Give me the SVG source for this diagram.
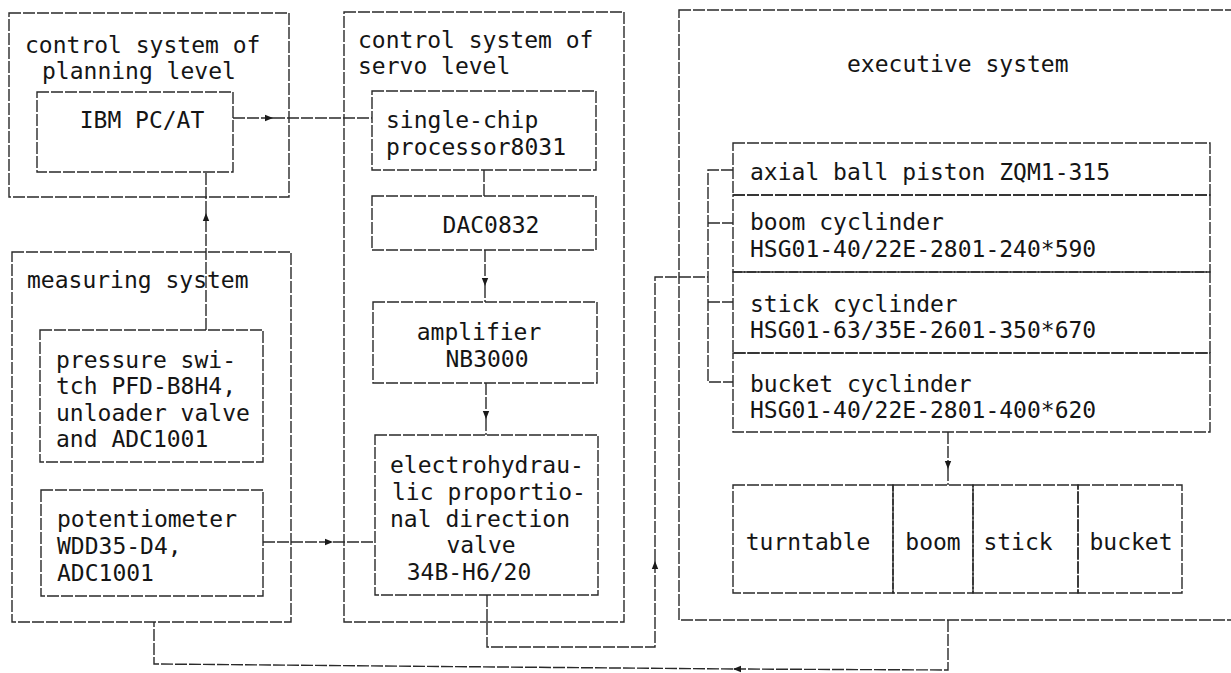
<svg xmlns="http://www.w3.org/2000/svg" width="1231" height="673" viewBox="0 0 1231 673">
<style>
.bx{fill:none;stroke:#2a2a2a;stroke-width:1.4;stroke-dasharray:12 2}
.ln{fill:none;stroke:#2a2a2a;stroke-width:1.4;stroke-dasharray:12 2}
.t{font-family:"DejaVu Sans Mono","Liberation Mono",monospace;font-size:23px;fill:#151515}
.m{text-anchor:middle}
</style>
<defs>
<marker id="ah" viewBox="0 0 10 10" refX="10" refY="5" markerWidth="9" markerHeight="8" markerUnits="userSpaceOnUse" orient="auto">
<path d="M0,1 L10,5 L0,9 z" fill="#1a1a1a"/>
</marker>
</defs>
<rect width="1231" height="673" fill="#ffffff"/>

<g id="planning-level">
<rect class="bx" x="9" y="13" width="280" height="184"/>
<text class="t" x="25" y="53">control system of</text>
<text class="t" x="42" y="79">planning level</text>
</g>
<g id="ibm-pc">
<rect class="bx" x="37" y="92" width="196" height="80"/>
<text class="t m" x="142" y="128">IBM PC/AT</text>
</g>

<g id="measuring-system">
<rect class="bx" x="12" y="252" width="279" height="370"/>
<text class="t" x="27" y="288">measuring system</text>
</g>
<g id="pressure-switch">
<rect class="bx" x="40" y="330" width="223" height="132"/>
<text class="t" x="56" y="368">pressure swi-</text>
<text class="t" x="56" y="394">tch PFD-B8H4,</text>
<text class="t" x="56" y="421">unloader valve</text>
<text class="t" x="56" y="447">and ADC1001</text>
</g>
<g id="potentiometer">
<rect class="bx" x="41" y="490" width="222" height="106"/>
<text class="t" x="57" y="527">potentiometer</text>
<text class="t" x="57" y="554">WDD35-D4,</text>
<text class="t" x="57" y="581">ADC1001</text>
</g>

<g id="servo-level">
<rect class="bx" x="344" y="12" width="280" height="610"/>
<text class="t" x="358" y="48">control system of</text>
<text class="t" x="358" y="74">servo level</text>
</g>
<g id="single-chip">
<rect class="bx" x="372" y="91" width="224" height="79"/>
<text class="t" x="386" y="128">single-chip</text>
<text class="t" x="386" y="155">processor8031</text>
</g>
<g id="dac">
<rect class="bx" x="372" y="196" width="224" height="54"/>
<text class="t m" x="491" y="233">DAC0832</text>
</g>
<g id="amplifier">
<rect class="bx" x="373" y="302" width="224" height="81"/>
<text class="t m" x="479" y="340">amplifier</text>
<text class="t m" x="487" y="367">NB3000</text>
</g>
<g id="valve">
<rect class="bx" x="375" y="435" width="223" height="160"/>
<text class="t" x="390" y="473">electrohydrau-</text>
<text class="t" x="392" y="500">lic proportio-</text>
<text class="t" x="390" y="527">nal direction</text>
<text class="t m" x="481" y="553">valve</text>
<text class="t m" x="469" y="580">34B-H6/20</text>
</g>

<g id="executive-system">
<rect class="bx" x="679" y="10" width="570" height="610"/>
<text class="t" x="847" y="72">executive system</text>
</g>
<g id="axial-pump">
<rect class="bx" x="733" y="143" width="477" height="52"/>
<text class="t" x="750" y="180">axial ball piston ZQM1-315</text>
</g>
<g id="boom-cylinder">
<rect class="bx" x="733" y="195" width="477" height="77"/>
<text class="t" x="750" y="230">boom cyclinder</text>
<text class="t" x="750" y="257">HSG01-40/22E-2801-240*590</text>
</g>
<g id="stick-cylinder">
<rect class="bx" x="733" y="272" width="477" height="81"/>
<text class="t" x="750" y="312">stick cyclinder</text>
<text class="t" x="750" y="338">HSG01-63/35E-2601-350*670</text>
</g>
<g id="bucket-cylinder">
<rect class="bx" x="733" y="353" width="477" height="79"/>
<text class="t" x="750" y="392">bucket cyclinder</text>
<text class="t" x="750" y="418">HSG01-40/22E-2801-400*620</text>
</g>
<g id="turntable">
<rect class="bx" x="733" y="485" width="160" height="108"/>
<text class="t m" x="808" y="550">turntable</text>
</g>
<g id="boom">
<rect class="bx" x="893" y="485" width="80" height="108"/>
<text class="t m" x="933" y="550">boom</text>
</g>
<g id="stick">
<rect class="bx" x="973" y="485" width="105" height="108"/>
<text class="t m" x="1018" y="550">stick</text>
</g>
<g id="bucket">
<rect class="bx" x="1078" y="485" width="104" height="108"/>
<text class="t m" x="1131" y="550">bucket</text>
</g>

<g id="connectors">
<line class="ln" x1="233" y1="118" x2="273" y2="118" marker-end="url(#ah)"/>
<line class="ln" x1="273" y1="118" x2="372" y2="118"/>
<line class="ln" x1="484" y1="170" x2="484" y2="196"/>
<line class="ln" x1="485" y1="250" x2="485" y2="286" marker-end="url(#ah)"/>
<line class="ln" x1="485" y1="286" x2="485" y2="302"/>
<line class="ln" x1="486" y1="383" x2="486" y2="419" marker-end="url(#ah)"/>
<line class="ln" x1="486" y1="419" x2="486" y2="435"/>
<line class="ln" x1="206" y1="330" x2="206" y2="213" marker-end="url(#ah)"/>
<line class="ln" x1="206" y1="213" x2="206" y2="172"/>
<line class="ln" x1="263" y1="542" x2="333" y2="542" marker-end="url(#ah)"/>
<line class="ln" x1="333" y1="542" x2="375" y2="542"/>
<polyline class="ln" points="487,595 487,647 655,647 655,561" marker-end="url(#ah)"/>
<polyline class="ln" points="655,561 655,277 708,277"/>
<polyline class="ln" points="733,170 708,170 708,382 733,382"/>
<line class="ln" x1="708" y1="223" x2="733" y2="223"/>
<line class="ln" x1="708" y1="302" x2="733" y2="302"/>
<line class="ln" x1="948" y1="432" x2="948" y2="469" marker-end="url(#ah)"/>
<line class="ln" x1="948" y1="469" x2="948" y2="485"/>
<polyline class="ln" points="948,620 948,670 733,669" marker-end="url(#ah)"/>
<polyline class="ln" points="733,669 154,664 154,622"/>
</g>
</svg>
